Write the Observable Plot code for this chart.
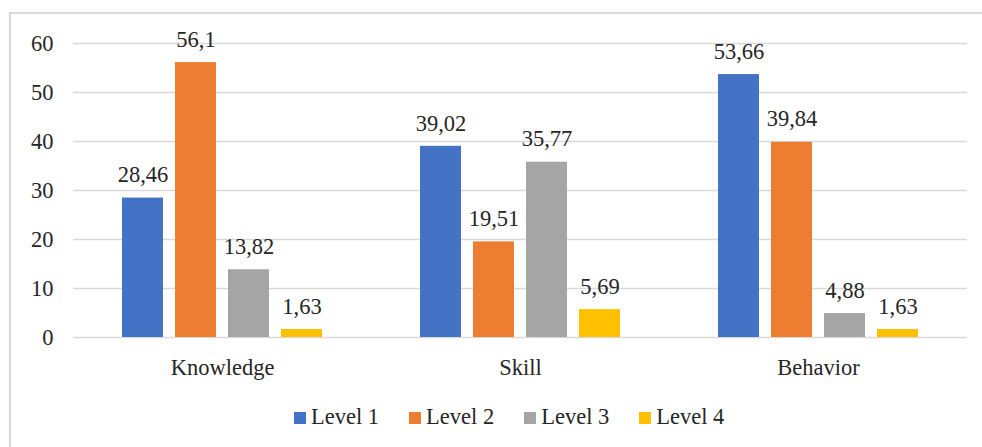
<!DOCTYPE html>
<html>
<head>
<meta charset="utf-8">
<script src="https://cdn.jsdelivr.net/npm/d3@7"></script>
<script src="https://cdn.jsdelivr.net/npm/@observablehq/plot@0.6"></script>
<style>
  html, body { margin: 0; padding: 0; background: #fff; }
  body { width: 982px; height: 447px; position: relative; overflow: hidden; font-family: "Liberation Serif", "Tinos", "DejaVu Serif", "Noto Serif", "Times New Roman", serif; }
  #frame { position: absolute; left: 9px; top: 12px; width: 1000px; height: 500px; border: 2px solid #d9d9d9; box-sizing: border-box; }
  #chart { position: absolute; left: 0; top: 0; }
  #legend { position: absolute; left: 294px; top: 404px; display: flex; gap: 30px; font-size: 22.5px; color: #262626; white-space: nowrap; }
  .item { display: flex; align-items: center; gap: 5px; }
  .sw { width: 12px; height: 12px; display: inline-block; margin-top: 2px; }
  #chart svg, #chart svg text { font-family: "Liberation Serif", "Tinos", "DejaVu Serif", "Noto Serif", "Times New Roman", serif !important; }
</style>
</head>
<body>
<div id="frame"></div>
<div id="chart"></div>
<div id="legend"></div>
<script>
const categories = ["Knowledge", "Skill", "Behavior"];
const levels = ["Level 1", "Level 2", "Level 3", "Level 4"];
const colors = ["#4472C4", "#ED7D31", "#A5A5A5", "#FFC000"];
const level1 = [28.46, 39.02, 53.66];
const level2 = [56.1, 19.51, 39.84];
const level3 = [13.82, 35.77, 4.88];
const level4 = [1.63, 5.69, 1.63];
const yTicks = [0, 10, 20, 30, 40, 50, 60];

const series = [level1, level2, level3, level4];
const data = [];
categories.forEach((c, i) => {
  levels.forEach((l, j) => {
    data.push({category: c, level: l, value: series[j][i]});
  });
});
const fmt = v => String(v).replace(".", ",");

const plot = Plot.plot({
  width: 982,
  height: 395,
  marginLeft: 72,
  marginRight: 15,
  marginTop: 43,
  marginBottom: 58,
  style: {fontSize: "22.5px", color: "#262626", background: "transparent"},
  fx: {domain: categories, padding: 0, label: null, tickSize: 0, tickPadding: 22, axis: "bottom"},
  x: {domain: levels, paddingInner: 0.222, paddingOuter: 0.873, axis: null},
  y: {domain: [0, 60], ticks: yTicks, tickSize: 0, tickPadding: 20, label: null},
  color: {domain: levels, range: colors},
  marks: [
    Plot.ruleY(yTicks, {stroke: "#d9d9d9", strokeWidth: 1.5}),
    Plot.barY(data, {fx: "category", x: "level", y: "value", fill: "level"}),
    Plot.text(data, {fx: "category", x: "level", y: "value", text: d => fmt(d.value), dy: -23, fontSize: 22.5, fill: "#262626"})
  ]
});
document.getElementById("chart").appendChild(plot);

const legend = document.getElementById("legend");
levels.forEach((l, j) => {
  const item = document.createElement("div");
  item.className = "item";
  const sw = document.createElement("span");
  sw.className = "sw";
  sw.style.background = colors[j];
  const t = document.createElement("span");
  t.textContent = l;
  item.appendChild(sw);
  item.appendChild(t);
  legend.appendChild(item);
});
</script>
</body>
</html>
